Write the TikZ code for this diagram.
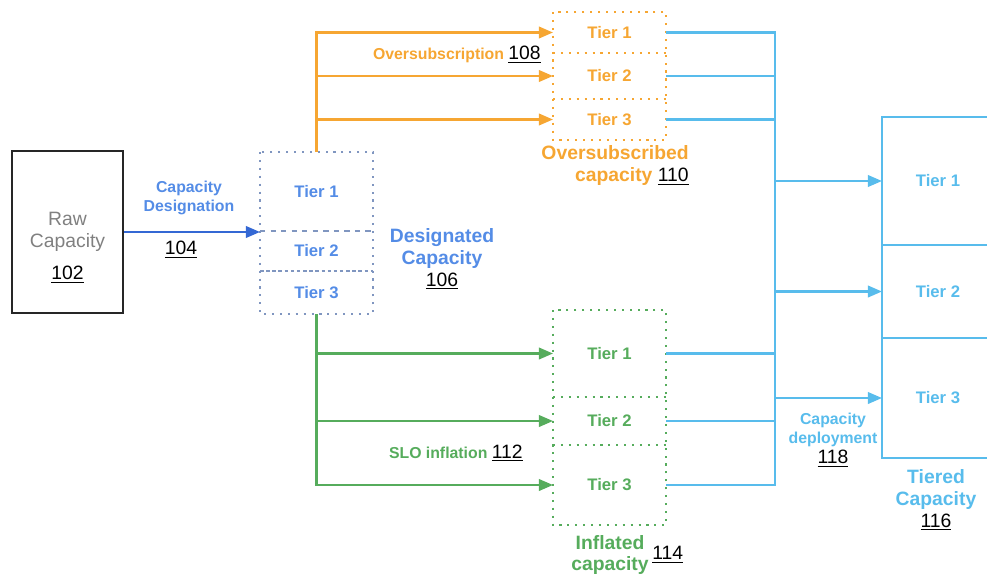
\documentclass[tikz,border=0pt]{standalone}
\usepackage{fontspec}
\setmainfont{Liberation Sans}
\usetikzlibrary{arrows.meta,positioning,calc}

\newcommand{\refnum}[1]{{\fontseries{m}\fontsize{11}{12.5}\selectfont\color{black}\underline{#1}}}

\begin{document}
\begin{tikzpicture}
		% Colores
		\definecolor{rawgray}{RGB}{128,128,128}
		\definecolor{desblue}{RGB}{84,140,230}
		\definecolor{desarrow}{RGB}{52,104,212}
		\definecolor{dotgray}{RGB}{128,150,192}
		\definecolor{subsorange}{RGB}{246,166,50}
		\definecolor{inflgreen}{RGB}{86,172,92}
		\definecolor{tierblue}{RGB}{88,188,236}
		
		% Marco de la imagen
		\useasboundingbox (0,0) rectangle (19.74,-11.54);
		\clip (0,0) rectangle (19.74,-11.54);
		
		\tikzset{
			tier/.style={font=\fontsize{9.5}{11}\selectfont\bfseries, minimum width=2.26cm, inner sep=0pt, outer sep=0pt},
			dotbox/.style={line width=1.2pt, dash pattern=on 1.2pt off 3.3pt},
			link/.style={line width=1.35pt},
			tip/.style={-{Triangle[length=8pt,width=6.5pt]}},
			caption/.style={font=\fontsize{11}{12.5}\selectfont\bfseries, align=center, inner sep=0pt},
			small/.style={font=\fontsize{9}{11.3}\selectfont\bfseries, align=center, inner sep=0pt}
		}
		
		% --- Capacidad bruta ---
		\node[draw=black!85, line width=1.5pt, minimum width=2.22cm, minimum height=3.24cm] (raw) at (1.35,-4.64) {};
		\node[font=\fontsize{11}{13}\selectfont, text=rawgray, align=center, inner sep=0pt] (rawlbl) at (1.35,-4.95) {Raw\\Capacity\\[5pt]\refnum{102}};
		
		% --- Capacidad designada ---
		\node[tier, text=desblue, minimum height=1.58cm] (d1) at (6.33,-3.83) {Tier 1};
		\node[tier, text=desblue, minimum height=0.8cm, below=0pt of d1] (d2) {Tier 2};
		\node[tier, text=desblue, minimum height=0.86cm, below=0pt of d2] (d3) {Tier 3};
		\draw[dotbox, draw=dotgray] (d1.north west) rectangle (d3.south east);
		\draw[line width=1.2pt, dashed, draw=dotgray] (d1.south west) -- (d1.south east);
		\draw[line width=1.2pt, dash pattern=on 2pt off 1.5pt, draw=dotgray] (d2.south west) -- (d2.south east);
		
		\draw[link, tip, draw=desarrow] (raw.east) -- (raw.east -| d1.west);
		\node[small, text=desblue] (deslbl) at (3.78,-3.96) {Capacity\\Designation};
		\node[inner sep=0pt] (n104) at (3.62,-5.0) {\refnum{104}};
		\node[caption, text=desblue] (descap) at (8.84,-5.18) {Designated\\Capacity\\\refnum{106}};
		
		% --- Capacidad sobresuscrita ---
		\node[tier, text=subsorange, minimum height=0.82cm] (o1) at (12.19,-0.65) {Tier 1};
		\node[tier, text=subsorange, minimum height=0.92cm, below=0pt of o1] (o2) {Tier 2};
		\node[tier, text=subsorange, minimum height=0.82cm, below=0pt of o2] (o3) {Tier 3};
		\draw[dotbox, draw=subsorange] (o1.north west) rectangle (o3.south east);
		\draw[dotbox, draw=subsorange] (o1.south west) -- (o1.south east);
		\draw[dotbox, draw=subsorange] (o2.south west) -- (o2.south east);
		
		\draw[link, tip, draw=subsorange] (d1.north) |- (o1.west);
		\draw[link, tip, draw=subsorange] (d1.north |- o2.west) -- (o2.west);
		\draw[link, tip, draw=subsorange] (d1.north |- o3.west) -- (o3.west);
		\node[small, text=subsorange, anchor=east] (subslbl) at (10.82,-1.1) {Oversubscription \refnum{108}};
		\node[caption, text=subsorange, align=right, anchor=north east] (subscap) at (13.78,-2.9) {Oversubscribed\\capacity \refnum{110}};
		
		% --- Capacidad inflada ---
		\node[tier, text=inflgreen, minimum height=1.74cm] (i1) at (12.19,-7.07) {Tier 1};
		\node[tier, text=inflgreen, minimum height=0.96cm, below=0pt of i1] (i2) {Tier 2};
		\node[tier, text=inflgreen, minimum height=1.6cm, below=0pt of i2] (i3) {Tier 3};
		\draw[dotbox, draw=inflgreen] (i1.north west) rectangle (i3.south east);
		\draw[dotbox, draw=inflgreen] (i1.south west) -- (i1.south east);
		\draw[dotbox, draw=inflgreen] (i2.south west) -- (i2.south east);
		
		\draw[link, tip, draw=inflgreen] (d3.south) |- (i3.west);
		\draw[link, tip, draw=inflgreen] (d3.south |- i1.west) -- (i1.west);
		\draw[link, tip, draw=inflgreen] (d3.south |- i2.west) -- (i2.west);
		\node[small, text=inflgreen, anchor=east] (slolbl) at (10.46,-9.06) {SLO inflation \refnum{112}};
		\node[caption, text=inflgreen] (inflcap) at (12.2,-11.1) {Inflated\\capacity};
		\node[inner sep=0pt, anchor=west] (n114) at (13.04,-11.1) {\refnum{114}};
		
		% --- Capacidad por niveles ---
		\node[tier, text=tierblue, draw=tierblue, line width=1.35pt, minimum width=2.24cm, minimum height=2.56cm] (t1) at (18.76,-3.62) {Tier 1};
		\node[tier, text=tierblue, draw=tierblue, line width=1.35pt, minimum width=2.24cm, minimum height=1.86cm, below=0pt of t1] (t2) {Tier 2};
		\node[tier, text=tierblue, draw=tierblue, line width=1.35pt, minimum width=2.24cm, minimum height=2.4cm, below=0pt of t2] (t3) {Tier 3};
		\node[caption, text=tierblue] (tiercap) at (18.72,-10.0) {Tiered\\Capacity\\\refnum{116}};
		
		% --- Despliegue ---
		\coordinate (bus) at (15.5,-3.64);
		\draw[link, draw=tierblue] (o1.east) -| (bus |- i3.east) -- (i3.east);
		\draw[link, draw=tierblue] (o2.east) -- (o2.east -| bus);
		\draw[link, draw=tierblue] (o3.east) -- (o3.east -| bus);
		\draw[link, draw=tierblue] (i1.east) -- (i1.east -| bus);
		\draw[link, draw=tierblue] (i2.east) -- (i2.east -| bus);
		\draw[link, tip, draw=tierblue] (bus |- t1.west) -- (t1.west);
		\draw[link, tip, draw=tierblue] (bus |- t2.west) -- (t2.west);
		\draw[link, tip, draw=tierblue] (bus |- t3.west) -- (t3.west);
		\node[small, text=tierblue] (deplbl) at (16.66,-8.8) {Capacity\\deployment\\\refnum{118}};
		
\end{tikzpicture}
\end{document}
